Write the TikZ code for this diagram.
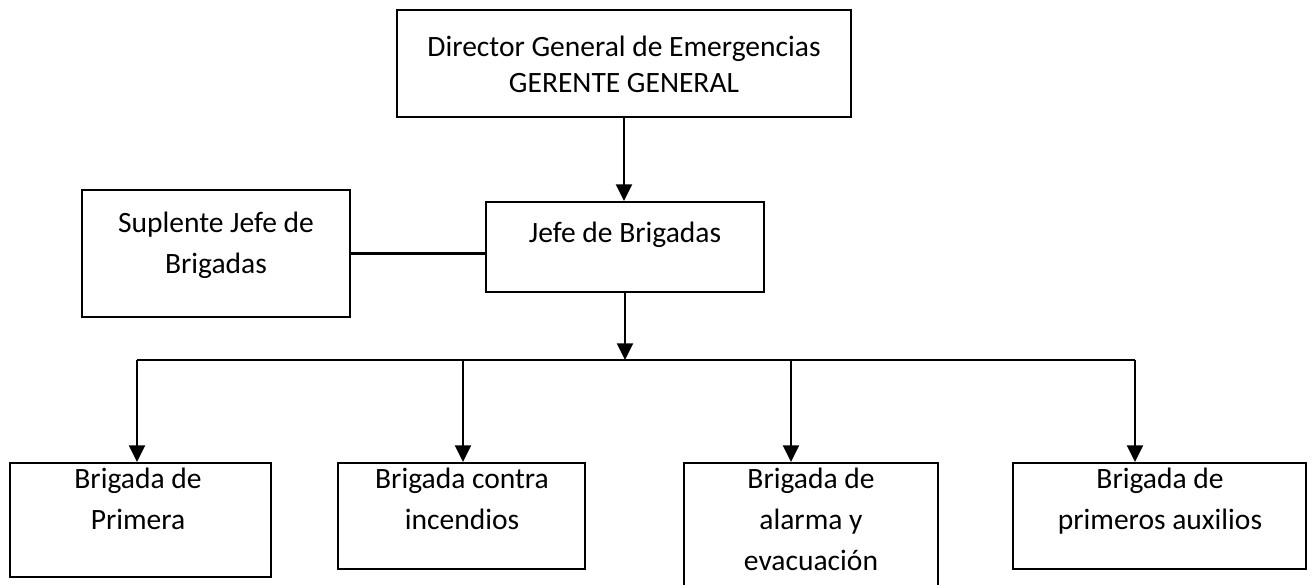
\documentclass[tikz,border=0pt]{standalone}
\usepackage{fontspec}
\setmainfont{Carlito}
\usetikzlibrary{arrows.meta}
\tikzset{
  box/.style={draw,line width=1.2pt,rectangle,inner sep=0pt},
  lbl/.style={anchor=north,align=center,inner sep=0pt,font=\fontsize{16.8}{23.2}\selectfont},
  conn/.style={line width=1.5pt},
  arr/.style={conn,-{Triangle[length=9.5pt,width=9pt]}}
}
\begin{document}
\begin{tikzpicture}[x=0.02cm,y=-0.02cm,line cap=butt,line join=miter]
\useasboundingbox (0,0) rectangle (1316,585);
\clip (0,0) rectangle (1316,585);
% boxes
\node[box,minimum width=9.08cm,minimum height=2.14cm] (dir) at (624,63.5) {};
\node[box,minimum width=5.56cm,minimum height=1.8cm] (jefe) at (625,247) {};
\node[box,minimum width=5.36cm,minimum height=2.54cm] (sup) at (216,253.5) {};
\node[box,minimum width=5.22cm,minimum height=2.28cm] (b1) at (140.5,520) {};
\node[box,minimum width=4.94cm,minimum height=2.12cm] (b2) at (461.5,516) {};
\node[box,minimum width=5.08cm,minimum height=3.14cm] (b3) at (811,541.5) {};
\node[box,minimum width=5.86cm,minimum height=2.12cm] (b4) at (1159.5,516) {};
% texts
\node[lbl,font=\fontsize{16.8}{20.4}\selectfont] (tdir) at (624,36) {Director General de Emergencias\\GERENTE GENERAL};
\node[lbl] (tjefe) at (625,222) {Jefe de Brigadas};
\node[lbl] (tsup) at (216,212) {Suplente Jefe de\\Brigadas};
\node[lbl] (tb1) at (138,468) {Brigada de\\Primera};
\node[lbl] (tb2) at (462,468) {Brigada contra\\incendios};
\node[lbl] (tb3) at (811,468) {Brigada de\\alarma y\\evacuación};
\node[lbl] (tb4) at (1160,468) {Brigada de\\primeros auxilios};
% connectors
\coordinate (t1) at (137,360);
\coordinate (t2) at (463,360);
\coordinate (t3) at (791,360);
\coordinate (t4) at (1135,360);
\draw[arr] (dir.south) -- (dir.south |- jefe.north);
\draw[conn] (sup.east) -- (sup.east -| jefe.west);
\draw[arr] (jefe.south) -- (jefe.south |- t1);
\draw[conn] (t1) -- (t4);
\draw[arr] (t1) -- (t1 |- b1.north);
\draw[arr] (t2) -- (t2 |- b2.north);
\draw[arr] (t3) -- (t3 |- b3.north);
\draw[arr] (t4) -- (t4 |- b4.north);
\end{tikzpicture}
\end{document}
